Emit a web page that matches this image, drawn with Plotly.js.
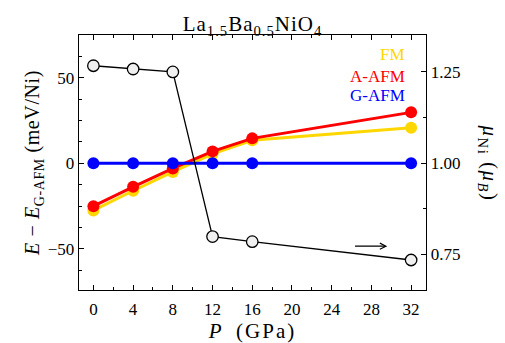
<!DOCTYPE html>
<html><head><meta charset="utf-8">
<script src="https://cdn.plot.ly/plotly-3.0.1.min.js"></script>
<style>
html,body{margin:0;padding:0;background:#fff}#plot{width:505px;height:343px}
#plot text.gtitle{letter-spacing:1px}
#plot text.xtitle{letter-spacing:2px}
#plot text.ytitle{letter-spacing:0.6px}
#plot g.annotation[data-index="0"] text{letter-spacing:1.5px}
</style>
</head><body><div id="plot"></div>
<script>
const pressure = [0, 4, 8, 12, 16, 32];
const fmEnergy = [-27.5, -16, -5, 5.5, 13.5, 20.8];
const aafmEnergy = [-25, -13.7, -3, 7, 14.6, 29.8];
const gafmEnergy = [0, 0, 0, 0, 0, 0];
const niMoment = [1.266, 1.257, 1.249, 0.799, 0.785, 0.735];
const xTicks = [0, 4, 8, 12, 16, 20, 24, 28, 32];

const FONT = "Times New Roman, Liberation Serif, Times, serif";
const mk = (c) => ({size: 12, color: c});
const traces = [
  {x: pressure, y: fmEnergy, mode: 'lines+markers', line: {color: '#FFD700', width: 3}, marker: mk('#FFD700'), name: 'FM'},
  {x: pressure, y: aafmEnergy, mode: 'lines+markers', line: {color: '#FF0000', width: 3}, marker: mk('#FF0000'), name: 'A-AFM'},
  {x: pressure, y: gafmEnergy, mode: 'lines+markers', line: {color: '#0000FF', width: 3}, marker: mk('#0000FF'), name: 'G-AFM'},
  {x: pressure, y: niMoment, yaxis: 'y2', mode: 'lines+markers', line: {color: '#000', width: 1.3},
   marker: {size: 11.5, color: '#f0f0f0', line: {color: '#000', width: 1.3}}, name: 'moment'}
];
const axCommon = {showline: true, linecolor: '#000', linewidth: 1.3, ticks: 'inside', ticklen: 5, tickwidth: 1, tickcolor: '#000',
  showgrid: false, zeroline: false, tickfont: {family: FONT, size: 17, color: '#000'}};
const layout = {
  width: 505, height: 343,
  margin: {l: 79, r: 79, t: 35, b: 53},
  paper_bgcolor: '#fff', plot_bgcolor: '#fff',
  showlegend: false,
  font: {family: FONT, color: '#000'},
  title: {text: 'La<sub>1.5</sub>Ba<sub>0.5</sub>NiO<sub>4</sub>', font: {family: FONT, size: 21, color: '#000'}, x: 0.5, xanchor: 'center', y: 0.93, yanchor: 'middle'},
  xaxis: Object.assign({}, axCommon, {range: [-1.45, 33.5], tickvals: xTicks, ticktext: xTicks.map(String), mirror: 'ticks', ticklabelstandoff: 3,
    minor: {dtick: 2, ticks: 'inside', ticklen: 3, tickcolor: '#000'},
    title: {text: '<i>P</i>\u2002(GPa)', font: {family: FONT, size: 21, color: '#000'}, standoff: 2}}),
  yaxis: Object.assign({}, axCommon, {range: [-74, 75], tickvals: [-50, 0, 50], ticktext: ['\u221250', '0', '50'],
    minor: {dtick: 12.5, ticks: 'inside', ticklen: 3, tickcolor: '#000'},
    title: {text: '<i>E</i> \u2212 <i>E</i><sub>G-AFM</sub> (meV/Ni)', font: {family: FONT, size: 20, color: '#000'}, standoff: 2}}),
  yaxis2: Object.assign({}, axCommon, {overlaying: 'y', side: 'right', range: [0.653, 1.35], tickvals: [0.75, 1.0, 1.25], ticktext: ['0.75', '1.00', '1.25'],
    minor: {dtick: 0.125, ticks: 'inside', ticklen: 3, tickcolor: '#000'}}),
  annotations: [
    {xref: 'paper', yref: 'paper', x: 1, y: 0.5, xshift: 63, text: '<i>\u03bc</i><sub>Ni</sub> (<i>\u03bc<sub>B</sub></i>)', textangle: 90, showarrow: false,
     font: {family: FONT, size: 21, color: '#000'}, xanchor: 'center', yanchor: 'middle'},
    {xref: 'paper', yref: 'paper', x: 0.946, y: 0.922, text: 'FM', showarrow: false, xanchor: 'right', yanchor: 'middle', font: {family: FONT, size: 17, color: '#FFD700'}},
    {xref: 'paper', yref: 'paper', x: 0.946, y: 0.839, text: 'A-AFM', showarrow: false, xanchor: 'right', yanchor: 'middle', font: {family: FONT, size: 17, color: '#FF0000'}},
    {xref: 'paper', yref: 'paper', x: 0.946, y: 0.761, text: 'G-AFM', showarrow: false, xanchor: 'right', yanchor: 'middle', font: {family: FONT, size: 17, color: '#0000FF'}},
    {xref: 'x', yref: 'y', x: 29.6, y: -48.4, ax: 26.2, ay: -48.4, axref: 'x', ayref: 'y', text: '', showarrow: true, arrowhead: 5, arrowsize: 1, arrowwidth: 1.2, arrowcolor: '#000'}
  ]
};
Plotly.newPlot('plot', traces, layout, {displayModeBar: false, staticPlot: true});
</script></body></html>
